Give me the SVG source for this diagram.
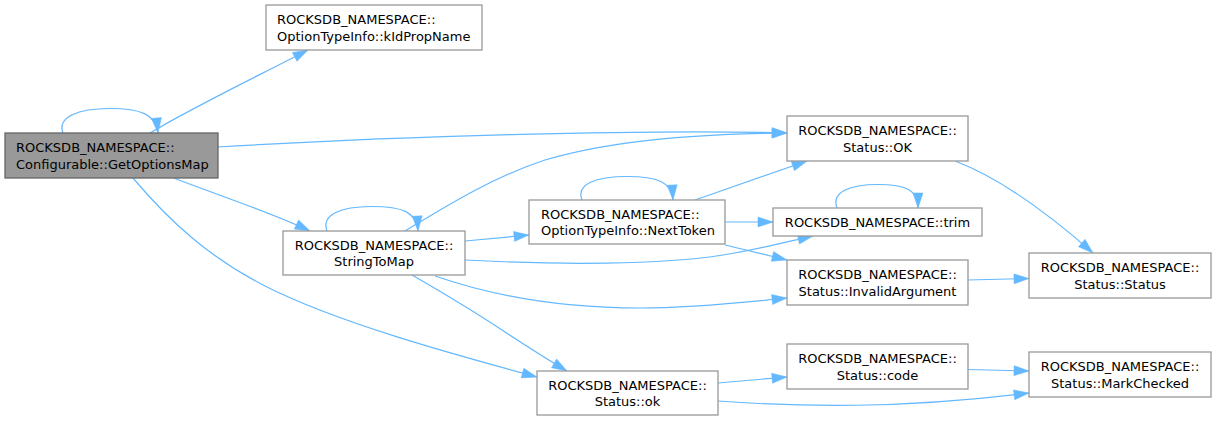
<svg xmlns="http://www.w3.org/2000/svg" width="1216" height="421" viewBox="0 0 1216 421">
<style>
  .n rect { fill: #ffffff; stroke: #999999; stroke-width: 1.3; }
  .main rect { fill: #999999; stroke: #666666; stroke-width: 1.3; }
  text { font-family: "DejaVu Sans", sans-serif; font-size: 13px; fill: #000000; }
  .c { text-anchor: middle; }
  .l { text-anchor: start; }
  #edges path { fill: none; stroke: #63b8ff; stroke-width: 1.2; marker-end: url(#arr); }
</style>
<defs>
  <marker id="arr" markerUnits="userSpaceOnUse" markerWidth="15" markerHeight="10" refX="15" refY="5" orient="auto" overflow="visible">
    <path d="M0,0 L15,5 L0,10 z" fill="#63b8ff" stroke="#63b8ff" stroke-width="0.5"/>
  </marker>
</defs>
<rect width="1216" height="421" fill="#ffffff"/>
<g id="edges">
  <path d="M63,133 C57,117 78,108.5 110,108.5 C140,108.5 156,114 158,133"/>
  <path d="M150,133 C195,106 260,75 308,50"/>
  <path d="M218,147 C400,136 650,129 787,133"/>
  <path d="M174,178 C220,196 270,212 310,231"/>
  <path d="M133,178 C170,222 210,258 265,286 C340,324 460,356 537,377"/>
  <path d="M327,231 C321,215 340,206.5 372,206.5 C402,206.5 417,212 418,231"/>
  <path d="M405,231 C440,210 490,178 545,160 C620,138 710,134 787,133"/>
  <path d="M465,241 L529,235"/>
  <path d="M465,260 C560,265 660,265 723,255 C760,249 790,241 813,236"/>
  <path d="M435,276 C490,295 560,308 640,308 C690,308 740,303 787,298"/>
  <path d="M412,275 C445,294 475,312 505,332 C525,345 545,358 567,371"/>
  <path d="M582,200 C576,184 596,176.5 627,176.5 C657,176.5 672,182 673,200"/>
  <path d="M695,200 L807,161"/>
  <path d="M725,222 L773,222"/>
  <path d="M725,245 L787,260"/>
  <path d="M955,161 C1000,178 1050,215 1093,253"/>
  <path d="M837,208 C831,192 850,184.5 878,184.5 C906,184.5 918,190 918,208"/>
  <path d="M968,280 L1029,278.5"/>
  <path d="M718,383 L787,377"/>
  <path d="M718,401 C800,407 900,409 1029,393"/>
  <path d="M968,369.5 L1029,371"/>
</g>
<g id="node_GetOptionsMap" class="main">
  <rect x="5" y="133" width="213" height="45"/>
  <text class="l" x="16" y="152">ROCKSDB_NAMESPACE::</text>
  <text class="l" x="16" y="168.5">Configurable::GetOptionsMap</text>
</g>
<g id="node_kIdPropName" class="n">
  <rect x="266" y="5" width="216" height="45"/>
  <text class="l" x="277" y="24">ROCKSDB_NAMESPACE::</text>
  <text class="l" x="277" y="40.5">OptionTypeInfo::kIdPropName</text>
</g>
<g id="node_StringToMap" class="n">
  <rect x="283" y="231" width="182" height="44"/>
  <text class="c" x="374" y="249.5">ROCKSDB_NAMESPACE::</text>
  <text class="c" x="374" y="266">StringToMap</text>
</g>
<g id="node_NextToken" class="n">
  <rect x="529" y="200" width="196" height="44"/>
  <text class="l" x="541" y="218.5">ROCKSDB_NAMESPACE::</text>
  <text class="l" x="541" y="235">OptionTypeInfo::NextToken</text>
</g>
<g id="node_Status_ok" class="n">
  <rect x="537" y="371" width="181" height="44"/>
  <text class="c" x="627.5" y="389.5">ROCKSDB_NAMESPACE::</text>
  <text class="c" x="627.5" y="406">Status::ok</text>
</g>
<g id="node_Status_OK" class="n">
  <rect x="787" y="116" width="181" height="45"/>
  <text class="c" x="877.5" y="135">ROCKSDB_NAMESPACE::</text>
  <text class="c" x="877.5" y="151.5">Status::OK</text>
</g>
<g id="node_trim" class="n">
  <rect x="773" y="208" width="209" height="28"/>
  <text class="c" x="877.5" y="226.7">ROCKSDB_NAMESPACE::trim</text>
</g>
<g id="node_InvalidArgument" class="n">
  <rect x="787" y="260" width="181" height="45"/>
  <text class="c" x="877.5" y="279">ROCKSDB_NAMESPACE::</text>
  <text class="c" x="877.5" y="295.5">Status::InvalidArgument</text>
</g>
<g id="node_code" class="n">
  <rect x="787" y="344" width="181" height="45"/>
  <text class="c" x="877.5" y="363">ROCKSDB_NAMESPACE::</text>
  <text class="c" x="877.5" y="379.5">Status::code</text>
</g>
<g id="node_Status_Status" class="n">
  <rect x="1029" y="253" width="182" height="45"/>
  <text class="c" x="1120" y="272">ROCKSDB_NAMESPACE::</text>
  <text class="c" x="1120" y="288.5">Status::Status</text>
</g>
<g id="node_MarkChecked" class="n">
  <rect x="1029" y="352" width="182" height="45"/>
  <text class="c" x="1120" y="371">ROCKSDB_NAMESPACE::</text>
  <text class="c" x="1120" y="387.5">Status::MarkChecked</text>
</g>
</svg>
